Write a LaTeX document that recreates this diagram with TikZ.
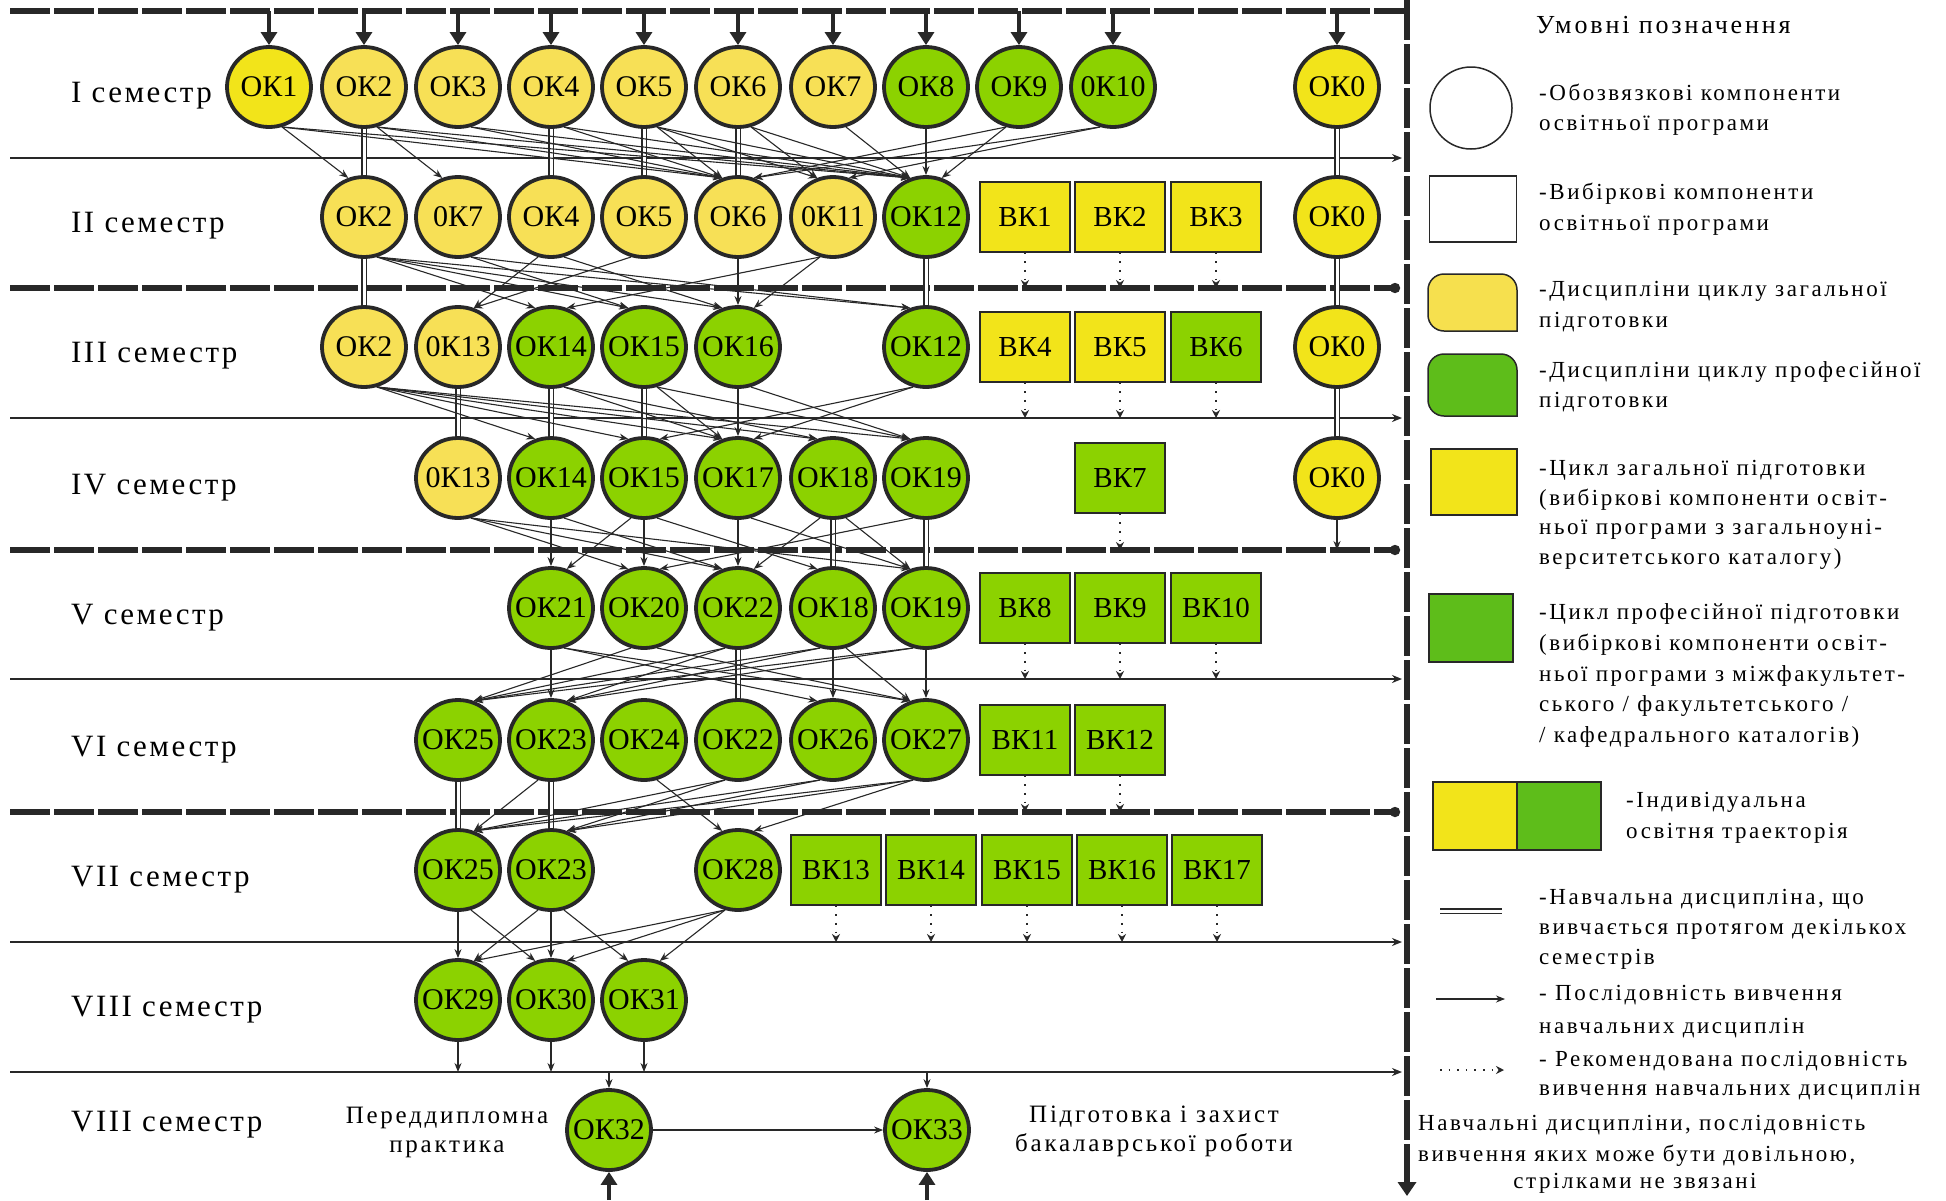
\documentclass[tikz,border=0pt]{standalone}
\usepackage{fontspec}
\setmainfont{Liberation Serif}
\newfontfamily\legf[LetterSpace=11]{Liberation Serif}
\newfontfamily\semf[LetterSpace=8]{Liberation Serif}
\newfontfamily\nodf{Liberation Serif}
\usetikzlibrary{shapes.geometric,arrows.meta}
\definecolor{ink}{RGB}{40,40,40}
\definecolor{ybright}{RGB}{242,228,26}
\definecolor{ypale}{RGB}{247,224,86}
\definecolor{gnode}{RGB}{140,210,0}
\definecolor{glegend}{RGB}{94,189,26}
\definecolor{ylegend}{RGB}{246,224,78}
\newcommand\mk[1]{\makebox[0pt]{#1}}
\pgfdeclarelayer{bg}\pgfsetlayers{bg,main}
\tikzset{
  ok/.style={ellipse,draw=ink,line width=3.8pt,minimum width=84pt,minimum height=80pt,inner sep=0pt,font=\nodf\fontsize{30}{30}\selectfont},
  vk/.style={rectangle,draw=ink,line width=1.5pt,minimum width=90pt,minimum height=70pt,inner sep=0pt,font=\nodf\fontsize{29}{29}\selectfont},
  sem/.style={anchor=base west,inner sep=0pt,font=\semf\fontsize{31}{31}\selectfont},
  leg/.style={anchor=base west,inner sep=0pt,font=\legf\fontsize{23}{23}\selectfont},
  captxt/.style={inner sep=0pt,font=\legf\fontsize{25}{25}\selectfont},
  arr/.style={draw=ink,line width=1.1pt,-{Stealth[length=9pt,width=7pt]}},
  dbl/.style={draw=ink,line width=1.3pt,double=white,double distance=3pt},
  darr/.style={draw=ink,line width=1.6pt,dash pattern=on 1.6pt off 7pt,-{Stealth[length=8pt,width=8pt]}},
  bigarr/.style={draw=ink,line width=4pt,-{Triangle[length=13pt,width=16pt]}},
  thinsep/.style={draw=ink,line width=2pt,-{Stealth[length=10pt,width=8pt]}},
  thicksep/.style={draw=ink,line width=5.5pt,dash pattern=on 40pt off 4pt,-{Circle[length=10pt]}},
}
\begin{document}
\begin{tikzpicture}[x=1pt,y=-1pt]
\useasboundingbox (0,0) rectangle (1946,1200);
% named reference coordinates for free ends
\coordinate (top) at (0,11);
\coordinate (L2) at (0,288);
\coordinate (L3) at (0,418);
\coordinate (L4) at (0,550);
\coordinate (L5) at (0,679);
\coordinate (L6) at (0,812);
\coordinate (L7) at (0,942);
\coordinate (L8) at (0,1072);
\coordinate (bot) at (0,1200);

% semester labels
\node[sem] (s1) at (71,102) {I семестр};
\node[sem] (s2) at (71,232) {II семестр};
\node[sem] (s3) at (71,362) {III семестр};
\node[sem] (s4) at (71,494) {IV семестр};
\node[sem] (s5) at (71,624) {V семестр};
\node[sem] (s6) at (71,756) {VI семестр};
\node[sem] (s7) at (71,886) {VII семестр};
\node[sem] (s8) at (71,1016) {VIII семестр};
\node[sem] (s9) at (71,1131) {VIII семестр};

% row I
\node[ok,fill=ybright] (a1) at (269,87) {\mk{ОК1}};
\node[ok,fill=ypale] (a2) at (364,87) {\mk{ОК2}};
\node[ok,fill=ypale] (a3) at (458,87) {\mk{ОК3}};
\node[ok,fill=ypale] (a4) at (551,87) {\mk{ОК4}};
\node[ok,fill=ypale] (a5) at (644,87) {\mk{ОК5}};
\node[ok,fill=ypale] (a6) at (738,87) {\mk{ОК6}};
\node[ok,fill=ypale] (a7) at (833,87) {\mk{ОК7}};
\node[ok,fill=gnode] (a8) at (926,87) {\mk{ОК8}};
\node[ok,fill=gnode] (a9) at (1019,87) {\mk{ОК9}};
\node[ok,fill=gnode] (a10) at (1113,87) {\mk{0К10}};
\node[ok,fill=ybright] (a0) at (1337,87) {\mk{ОК0}};
% row II
\node[ok,fill=ypale] (b2) at (364,217) {\mk{ОК2}};
\node[ok,fill=ypale] (b7) at (458,217) {\mk{0К7}};
\node[ok,fill=ypale] (b4) at (551,217) {\mk{ОК4}};
\node[ok,fill=ypale] (b5) at (644,217) {\mk{ОК5}};
\node[ok,fill=ypale] (b6) at (738,217) {\mk{ОК6}};
\node[ok,fill=ypale] (b11) at (833,217) {\mk{0К11}};
\node[ok,fill=gnode] (b12) at (926,217) {\mk{ОК12}};
\node[vk,fill=ybright] (bv1) at (1025,217) {ВК1};
\node[vk,fill=ybright] (bv2) at (1120,217) {ВК2};
\node[vk,fill=ybright] (bv3) at (1216,217) {ВК3};
\node[ok,fill=ybright] (b0) at (1337,217) {\mk{ОК0}};
% row III
\node[ok,fill=ypale] (c2) at (364,347) {\mk{ОК2}};
\node[ok,fill=ypale] (c13) at (458,347) {\mk{0К13}};
\node[ok,fill=gnode] (c14) at (551,347) {\mk{ОК14}};
\node[ok,fill=gnode] (c15) at (644,347) {\mk{ОК15}};
\node[ok,fill=gnode] (c16) at (738,347) {\mk{ОК16}};
\node[ok,fill=gnode] (c12) at (926,347) {\mk{ОК12}};
\node[vk,fill=ybright] (cv4) at (1025,347) {ВК4};
\node[vk,fill=ybright] (cv5) at (1120,347) {ВК5};
\node[vk,fill=gnode] (cv6) at (1216,347) {ВК6};
\node[ok,fill=ybright] (c0) at (1337,347) {\mk{ОК0}};
% row IV
\node[ok,fill=ypale] (d13) at (458,478) {\mk{0К13}};
\node[ok,fill=gnode] (d14) at (551,478) {\mk{ОК14}};
\node[ok,fill=gnode] (d15) at (644,478) {\mk{ОК15}};
\node[ok,fill=gnode] (d17) at (738,478) {\mk{ОК17}};
\node[ok,fill=gnode] (d18) at (833,478) {\mk{ОК18}};
\node[ok,fill=gnode] (d19) at (926,478) {\mk{ОК19}};
\node[vk,fill=gnode] (dv7) at (1120,478) {ВК7};
\node[ok,fill=ybright] (d0) at (1337,478) {\mk{ОК0}};
% row V
\node[ok,fill=gnode] (e21) at (551,608) {\mk{ОК21}};
\node[ok,fill=gnode] (e20) at (644,608) {\mk{ОК20}};
\node[ok,fill=gnode] (e22) at (738,608) {\mk{ОК22}};
\node[ok,fill=gnode] (e18) at (833,608) {\mk{ОК18}};
\node[ok,fill=gnode] (e19) at (926,608) {\mk{ОК19}};
\node[vk,fill=gnode] (ev8) at (1025,608) {ВК8};
\node[vk,fill=gnode] (ev9) at (1120,608) {ВК9};
\node[vk,fill=gnode] (ev10) at (1216,608) {ВК10};
% row VI
\node[ok,fill=gnode] (f25) at (458,740) {\mk{ОК25}};
\node[ok,fill=gnode] (f23) at (551,740) {\mk{ОК23}};
\node[ok,fill=gnode] (f24) at (644,740) {\mk{ОК24}};
\node[ok,fill=gnode] (f22) at (738,740) {\mk{ОК22}};
\node[ok,fill=gnode] (f26) at (833,740) {\mk{ОК26}};
\node[ok,fill=gnode] (f27) at (926,740) {\mk{ОК27}};
\node[vk,fill=gnode] (fv11) at (1025,740) {ВК11};
\node[vk,fill=gnode] (fv12) at (1120,740) {ВК12};
% row VII
\node[ok,fill=gnode] (g25) at (458,870) {\mk{ОК25}};
\node[ok,fill=gnode] (g23) at (551,870) {\mk{ОК23}};
\node[ok,fill=gnode] (g28) at (738,870) {\mk{ОК28}};
\node[vk,fill=gnode] (gv13) at (836,870) {ВК13};
\node[vk,fill=gnode] (gv14) at (931,870) {ВК14};
\node[vk,fill=gnode] (gv15) at (1027,870) {ВК15};
\node[vk,fill=gnode] (gv16) at (1122,870) {ВК16};
\node[vk,fill=gnode] (gv17) at (1217,870) {ВК17};
% row VIII
\node[ok,fill=gnode] (h29) at (458,1000) {\mk{ОК29}};
\node[ok,fill=gnode] (h30) at (551,1000) {\mk{ОК30}};
\node[ok,fill=gnode] (h31) at (644,1000) {\mk{ОК31}};
% last row
\node[ok,fill=gnode] (i32) at (609,1130) {\mk{ОК32}};
\node[ok,fill=gnode] (i33) at (927,1130) {\mk{ОК33}};
\node[captxt,align=center] (t32) at (447,1132) {Переддипломна\\[4pt]практика};
\node[captxt,align=center] (t33) at (1154,1131) {Підготовка і захист\\[4pt]бакалаврської роботи};

\begin{pgfonlayer}{bg}
\fill[white] (0,0) rectangle (1946,1200);
% separators
\draw[draw=ink,line width=5.5pt,dash pattern=on 40pt off 4pt] (10,11) -- (1405,11);
\draw[thinsep] (10,158) -- (1402,158);
\draw[thicksep] (10,288) -- (1400,288);
\draw[thinsep] (10,418) -- (1402,418);
\draw[thicksep] (10,550) -- (1400,550);
\draw[thinsep] (10,679) -- (1402,679);
\draw[thicksep] (10,812) -- (1400,812);
\draw[thinsep] (10,942) -- (1402,942);
\draw[thinsep] (10,1072) -- (1402,1072);
\draw[draw=ink,line width=5.5pt,dash pattern=on 40pt off 4pt,-{Triangle[length=14pt,width=18pt]}] (1407,0) -- (1407,1196);

% double lines (multi-semester)
\foreach \a/\b in {a2/b2,b2/c2,a4/b4,a5/b5,a6/b6,a0/b0,b0/c0,c0/d0,b12/c12,c13/d13,c14/d14,c15/d15,d18/e18,d19/e19,e22/f22,f25/g25,f23/g23}
  \draw[dbl] (\a.south) -- (\b.north);
% vertical single arrows
\foreach \a/\b in {a8/b12,b6/c16,c16/d17,d14/e21,d15/e20,d17/e22,e21/f23,e18/f26,e19/f27,g25/h29,g23/h30}
  \draw[arr] (\a.south) -- (\b.north);
% arrows to the right
\foreach \a/\b in {a1/b2,a1/b6,a1/b12,a2/b7,a2/b6,a2/b12,a3/b6,a3/b12,a4/b6,a4/b12,a5/b6,a5/b11,a5/b12,a6/b11,a6/b12,a7/b12,
  b2/c14,b2/c15,b2/c16,b2/c12,b7/c15,b7/c12,b4/c16,
  c2/d14,c2/d15,c2/d17,c2/d18,c2/d19,c14/d17,c14/d18,c15/d17,c15/d19,c16/d19,
  d13/e20,d13/e22,d13/e19,d14/e22,d15/e18,d17/e19,d18/e19,
  e21/f27,e21/f26,e20/f27,e18/f27,
  f24/g28,
  g25/h30,g23/h31}
  \draw[arr] (\a.-72) -- (\b.112);
% arrows to the left
\foreach \a/\b in {a9/b12,a9/b6,a10/b6,a10/b11,
  b4/c13,b5/c13,b11/c14,b11/c16,
  c12/d17,c12/d15,
  d15/e21,d19/e20,d18/e22,
  e20/f25,e22/f25,e22/f23,e18/f25,e18/f23,e19/f25,e19/f23,
  f23/g25,f22/g25,f22/g23,f26/g25,f26/g23,f27/g28,f27/g23,f27/g25,
  g23/h29,g28/h29,g28/h30,g28/h31}
  \draw[arr] (\a.-108) -- (\b.68);

% top feeding arrows
\foreach \n in {a1,a2,a3,a4,a5,a6,a7,a8,a9,a10,a0}
  \draw[bigarr] (\n.north |- top) -- (\n.north);
% OK0 to line IV/V
\draw[arr] (d0.south) -- (d0.south |- L4);
% dotted recommended arrows from elective blocks
\foreach \n/\l in {bv1/L2,bv2/L2,bv3/L2,cv4/L3,cv5/L3,cv6/L3,dv7/L4,ev8/L5,ev9/L5,ev10/L5,fv11/L6,fv12/L6,gv13/L7,gv14/L7,gv15/L7,gv16/L7,gv17/L7}
  \draw[darr] (\n.south) -- (\n.south |- \l);
% last semesters
\foreach \n in {h29,h30,h31}
  \draw[arr] (\n.south) -- (\n.south |- L8);
\foreach \n in {i32,i33}
  \draw[arr] (\n.north |- L8) -- (\n.north);
\foreach \n in {i32,i33}
  \draw[bigarr] (\n.south |- bot) -- (\n.south);
\draw[arr] (i32.east) -- (i33.west);
\end{pgfonlayer}

% legend
\node[leg,font=\legf\fontsize{26}{26}\selectfont] (lt) at (1536,33) {Умовні позначення};
\node[circle,draw=ink,line width=1.5pt,fill=white,minimum size=82pt,inner sep=0pt] (lg1) at (1471,108) {};
\node[leg] (l1a) at (1539,100) {-Обозвязкові компоненти};
\node[leg] (l1b) at (1539,130) {освітньої програми};
\node[rectangle,draw=ink,line width=1.5pt,fill=white,minimum width=87pt,minimum height=66pt,inner sep=0pt] (lg2) at (1473,209) {};
\node[leg] (l2a) at (1539,199) {-Вибіркові компоненти};
\node[leg] (l2b) at (1539,230) {освітньої програми};
\draw[draw=ink,line width=1.5pt,fill=ylegend,rounded corners=16pt] (1517,331) -- (1428,331) -- (1428,274) -- (1517,274) [sharp corners] -- cycle;
\node[leg] (l3a) at (1539,296) {-Дисципліни циклу загальної};
\node[leg] (l3b) at (1539,327) {підготовки};
\draw[draw=ink,line width=1.5pt,fill=glegend,rounded corners=16pt] (1517,416) -- (1428,416) -- (1428,354) -- (1517,354) [sharp corners] -- cycle;
\node[leg] (l4a) at (1539,377) {-Дисципліни циклу професійної};
\node[leg] (l4b) at (1539,407) {підготовки};
\node[rectangle,draw=ink,line width=1.5pt,fill=ybright,minimum width=86pt,minimum height=66pt,inner sep=0pt] (lg5) at (1474,482) {};
\node[leg] (l5a) at (1539,475) {-Цикл загальної підготовки};
\node[leg] (l5b) at (1539,505) {(вибіркові компоненти освіт-};
\node[leg] (l5c) at (1539,534) {ньої програми з загальноуні-};
\node[leg] (l5d) at (1539,564) {верситетського каталогу)};
\node[rectangle,draw=ink,line width=1.5pt,fill=glegend,minimum width=84pt,minimum height=68pt,inner sep=0pt] (lg6) at (1471,628) {};
\node[leg] (l6a) at (1539,619) {-Цикл професійної підготовки};
\node[leg] (l6b) at (1539,650) {(вибіркові компоненти освіт-};
\node[leg] (l6c) at (1539,681) {ньої програми з міжфакультет-};
\node[leg] (l6d) at (1539,711) {ського / факультетського /};
\node[leg] (l6e) at (1539,742) {/ кафедрального каталогів)};
\node[rectangle,draw=ink,line width=1.5pt,fill=ybright,minimum width=84pt,minimum height=68pt,inner sep=0pt] (lg7a) at (1475,816) {};
\node[rectangle,draw=ink,line width=1.5pt,fill=glegend,minimum width=84pt,minimum height=68pt,inner sep=0pt] (lg7b) at (1559,816) {};
\node[leg] (l7a) at (1626,807) {-Індивідуальна};
\node[leg] (l7b) at (1626,838) {освітня траекторія};
\coordinate (lg8a) at (1440,911);
\coordinate (lg8b) at (1502,911);
\draw[dbl] (lg8a) -- (lg8b);
\node[leg] (l8a) at (1539,904) {-Навчальна дисципліна, що};
\node[leg] (l8b) at (1539,934) {вивчається протягом декількох};
\node[leg] (l8c) at (1539,964) {семестрів};
\coordinate (lg9a) at (1436,999);
\coordinate (lg9b) at (1505,999);
\draw[arr] (lg9a) -- (lg9b);
\node[leg] (l9a) at (1539,1000) {- Послідовність вивчення};
\node[leg] (l9b) at (1539,1033) {навчальних дисциплін};
\coordinate (lg10a) at (1440,1070);
\coordinate (lg10b) at (1504,1070);
\draw[darr] (lg10a) -- (lg10b);
\node[leg] (l10a) at (1539,1066) {- Рекомендована послідовність};
\node[leg] (l10b) at (1539,1095) {вивчення навчальних дисциплін};
\node[leg] (l11a) at (1418,1130) {Навчальні дисципліни, послідовність};
\node[leg] (l11b) at (1418,1161) {вивчення яких може бути довільною,};
\node[leg,anchor=base] (l11c) at (1635,1188) {стрілками не звязані};
\end{tikzpicture}
\end{document}
